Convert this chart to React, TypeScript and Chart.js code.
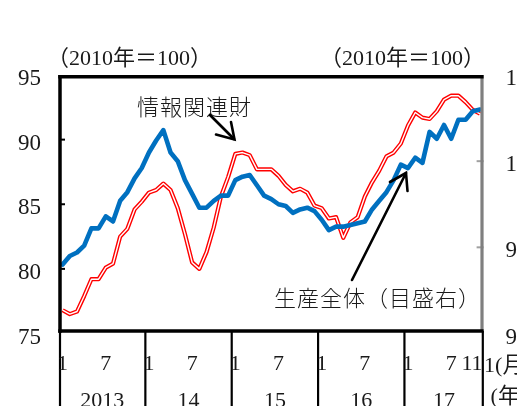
import React, { useEffect, useRef } from 'react';
import { Chart, registerables } from 'chart.js';

Chart.register(...registerables);

// ---- data ----
const YEARS = ['2013', '14', '15', '16', '17'];
const MONTHS_IN_YEAR = [12, 12, 12, 12, 11];

// 情報関連財 (left scale, 2010=100)
const INFO_GOODS = [
  76.8, 76.5, 76.7, 77.9, 79.2, 79.2, 80.1, 80.4, 82.5, 83.1, 84.6, 85.2,
  85.9, 86.1, 86.6, 86.1, 84.7, 82.7, 80.5, 80.0, 81.3, 83.2, 85.6, 87.1,
  88.9, 89.0, 88.8, 87.7, 87.7, 87.7, 87.2, 86.5, 86.0, 86.2, 85.9, 84.9,
  84.7, 83.9, 84.0, 82.4, 83.6, 84.0, 85.6, 86.7, 87.6, 88.7, 89.0, 89.7,
  91.1, 92.1, 91.7, 91.6, 92.2, 93.1, 93.4, 93.4, 92.9, 92.3, 92.0,
];

// 生産全体 (right scale, 2010=100)
const PRODUCTION = [
  94.0, 94.5, 94.7, 95.1, 96.1, 96.1, 96.8, 96.5, 97.7, 98.2, 99.0, 99.6,
  100.5, 101.2, 101.8, 100.5, 100.0, 98.9, 98.1, 97.3, 97.3, 97.7, 98.0, 98.0,
  98.9, 99.1, 99.2, 98.6, 98.0, 97.8, 97.5, 97.4, 97.0, 97.2, 97.3, 97.1,
  96.6, 96.0, 96.2, 96.2, 96.3, 96.4, 96.5, 97.2, 97.7, 98.2, 98.9, 99.8,
  99.6, 100.2, 99.9, 101.7, 101.3, 102.1, 101.3, 102.4, 102.4, 102.9, 103.0,
];

const LEFT_MIN = 75;
const LEFT_MAX = 95;
const RIGHT_MIN = 90;
const RIGHT_MAX = 105;
const TICK_STEP = 5;
const LABELED_MONTHS = [1, 7];

const CATEGORIES: string[] = [];
const MONTH_OF: number[] = [];
YEARS.forEach((y, yi) => {
  for (let m = 1; m <= MONTHS_IN_YEAR[yi]; m++) {
    CATEGORIES.push(`${y}/${m}`);
    MONTH_OF.push(m);
  }
});

const NUM_FONT = '"Liberation Serif", "Noto Sans CJK JP", serif';
const JP_FONT = '"Noto Sans CJK JP", sans-serif';
const TEXT = '#1a1a1a';

const decor = {
  id: 'decor',
  afterDatasetsDraw(chart: any) {
    const { ctx, chartArea: a, scales } = chart;
    const xs = scales.x;
    const yL = scales.yL;
    const yR = scales.yR;
    ctx.save();

    const seg = (x1: number, y1: number, x2: number, y2: number) => {
      ctx.beginPath();
      ctx.moveTo(x1, y1);
      ctx.lineTo(x2, y2);
      ctx.stroke();
    };

    // inward tick marks
    ctx.lineWidth = 2;
    ctx.strokeStyle = '#000';
    for (let v = LEFT_MIN + TICK_STEP; v < LEFT_MAX; v += TICK_STEP) {
      const py = yL.getPixelForValue(v);
      seg(a.left, py, a.left + 6, py);
    }
    ctx.strokeStyle = '#a0a0a0';
    for (let v = RIGHT_MIN + TICK_STEP; v < RIGHT_MAX; v += TICK_STEP) {
      const py = yR.getPixelForValue(v);
      seg(a.right - 7, py, a.right, py);
    }

    // plot frame
    const L = a.left + 1;
    const R = a.right - 1.6;
    const T = a.top + 1.7;
    const B = a.bottom - 2.6;
    ctx.lineCap = 'butt';
    ctx.strokeStyle = '#7f7f7f';
    ctx.lineWidth = 3.2;
    seg(R, T - 1.7, R, B);
    ctx.strokeStyle = '#000';
    ctx.lineWidth = 3.5;
    seg(L - 1.75, T, R + 1.6, T);
    seg(L, T - 1.7, L, B + 1.75);
    seg(L - 1.75, B, R + 1.6, B);

    // year separators below the plot
    const n = CATEGORIES.length;
    const step = (a.right - a.left) / n;
    ctx.lineWidth = 2.2;
    let idx = 0;
    const bounds: number[] = [];
    MONTHS_IN_YEAR.forEach((c) => {
      bounds.push(idx);
      idx += c;
    });
    bounds.push(n);
    bounds.forEach((bi, k) => {
      let px = bi === n ? xs.getPixelForValue(n - 1) + step / 2 : xs.getPixelForValue(bi) - step / 2;
      if (k === 0) px = L;
      if (bi === n) px = R + 0.8;
      seg(px, B, px, 420);
    });

    // month labels
    ctx.fillStyle = TEXT;
    ctx.font = `22px ${NUM_FONT}`;
    ctx.textBaseline = 'middle';
    for (let i = 0; i < n; i++) {
      const m = MONTH_OF[i];
      if (i === n - 1) {
        ctx.textAlign = 'right';
        ctx.fillText(String(m), a.right - 1, 364);
      } else if (LABELED_MONTHS.includes(m)) {
        ctx.textAlign = 'center';
        ctx.fillText(String(m), xs.getPixelForValue(i), 364);
      }
    }
    // year labels
    ctx.textAlign = 'center';
    ctx.textBaseline = 'alphabetic';
    YEARS.forEach((y, k) => {
      const s = bounds[k];
      const e = bounds[k + 1] - 1;
      const cx = (xs.getPixelForValue(s) + xs.getPixelForValue(e)) / 2;
      ctx.fillText(y, cx, 407);
    });
    // unit labels at the right end of the axis
    ctx.textAlign = 'left';
    ctx.textBaseline = 'middle';
    ctx.fillText('1(月)', a.right + 0.5, 366);
    ctx.fillText('(年)', a.right + 7, 397);

    // scale notes
    ctx.font = `22px ${NUM_FONT}`;
    ctx.textAlign = 'left';
    ctx.fillText('（2010年＝100）', 47, 59);
    ctx.fillText('（2010年＝100）', 320, 59);

    // annotations
    ctx.font = `300 22px ${JP_FONT}`;
    ctx.textAlign = 'left';
    (ctx as any).letterSpacing = '1px';
    ctx.fillText('情報関連財', 137, 107);
    ctx.fillText('生産全体（目盛右）', 274, 298);
    (ctx as any).letterSpacing = '0px';

    ctx.strokeStyle = '#000';
    ctx.lineWidth = 2.6;
    ctx.lineCap = 'round';
    ctx.lineJoin = 'miter';
    seg(210, 115, 234, 139);
    ctx.beginPath();
    ctx.moveTo(216, 134.5);
    ctx.lineTo(234.5, 139.5);
    ctx.lineTo(231, 122);
    ctx.stroke();

    seg(352, 280, 406, 173);
    ctx.beginPath();
    ctx.moveTo(390, 182);
    ctx.lineTo(406, 173);
    ctx.lineTo(407.5, 191);
    ctx.stroke();

    ctx.restore();
  },
};

export default function App() {
  const ref = useRef<HTMLCanvasElement | null>(null);

  useEffect(() => {
    if (!ref.current) return;
    const tickFont = { family: NUM_FONT, size: 23 };
    const chart = new Chart(ref.current, {
      type: 'line',
      data: {
        labels: CATEGORIES,
        datasets: [
          {
            label: '生産全体（目盛右）',
            data: PRODUCTION,
            yAxisID: 'yR',
            borderColor: '#0070C0',
            borderWidth: 4.6,
            pointRadius: 0,
            tension: 0,
            borderJoinStyle: 'round',
            borderCapStyle: 'round',
          },
          {
            label: '情報関連財 (inner)',
            data: INFO_GOODS,
            yAxisID: 'yL',
            borderColor: '#ffffff',
            borderWidth: 1.4,
            pointRadius: 0,
            tension: 0,
            borderJoinStyle: 'round',
          },
          {
            label: '情報関連財',
            data: INFO_GOODS,
            yAxisID: 'yL',
            borderColor: '#ff0000',
            borderWidth: 4.2,
            pointRadius: 0,
            tension: 0,
            borderJoinStyle: 'round',
          },
        ],
      },
      options: {
        animation: false,
        responsive: false,
        devicePixelRatio: 1,
        layout: { padding: { top: 75, bottom: 72.5, left: 0, right: 0 } },
        plugins: {
          legend: { display: false },
          tooltip: { enabled: false },
        },
        scales: {
          x: {
            type: 'category',
            display: false,
            offset: true,
          },
          yL: {
            position: 'left',
            min: LEFT_MIN,
            max: LEFT_MAX,
            grid: { display: false, drawTicks: false },
            border: { display: false },
            ticks: {
              stepSize: TICK_STEP,
              padding: 18,
              labelOffset: 4,
              font: tickFont,
              color: TEXT,
            },
            afterFit: (s: any) => {
              s.width = 59;
            },
          },
          yR: {
            position: 'right',
            min: RIGHT_MIN,
            max: RIGHT_MAX,
            grid: { display: false, drawTicks: false },
            border: { display: false },
            ticks: {
              stepSize: TICK_STEP,
              padding: 22,
              labelOffset: 4,
              font: tickFont,
              color: TEXT,
            },
            afterFit: (s: any) => {
              s.width = 56.4;
            },
          },
        },
      } as any,
      plugins: [decor],
    });
    return () => chart.destroy();
  }, []);

  return (
    <div
      style={{
        position: 'fixed',
        left: 0,
        top: 0,
        width: 517,
        height: 406,
        overflow: 'hidden',
        background: '#fff',
      }}
    >
      <canvas ref={ref} width={540} height={406} style={{ width: 540, height: 406, display: 'block' }} />
    </div>
  );
}
